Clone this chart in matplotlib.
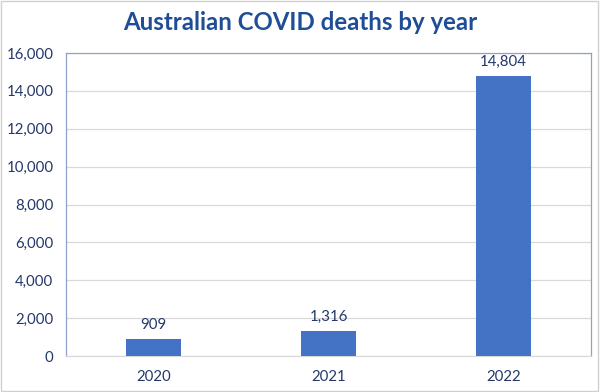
import matplotlib
matplotlib.use('Agg')
import matplotlib.pyplot as plt
from matplotlib.patches import Rectangle

plt.rcParams['font.family'] = ['Lato', 'DejaVu Sans']

years = ['2020', '2021', '2022']
deaths = [909, 1316, 14804]

dark_blue = '#1F4E96'
text_blue = '#24386A'
bar_blue = '#4472C4'
frame = '#8FA2C4'

fig = plt.figure(figsize=(6, 3.92), dpi=100)
ax = fig.add_axes([0.11, 0.0918, 0.875, 0.773])

x = range(len(years))
bars = ax.bar(x, deaths, width=0.31, color=bar_blue, zorder=3)

ax.set_xlim(-0.5, 2.5)
ax.set_ylim(0, 16000)
ax.set_yticks(range(0, 16001, 2000))
ax.set_yticklabels(['{:,}'.format(v) for v in range(0, 16001, 2000)])
ax.set_xticks(list(x))
ax.set_xticklabels(years)
ax.grid(axis='y', color='#D9D9D9', linewidth=0.9, zorder=0)
ax.tick_params(length=0, labelsize=10.8, colors=text_blue, pad=9)
ax.tick_params(axis='x', pad=10)

for s in ['left', 'right', 'top']:
    ax.spines[s].set_color(frame)
    ax.spines[s].set_linewidth(0.9)
ax.spines['bottom'].set_color('#D9D9D9')
ax.spines['bottom'].set_linewidth(0.9)

for b, v in zip(bars, deaths):
    ax.annotate('{:,}'.format(v), (b.get_x() + b.get_width() / 2, v),
                xytext=(0, 5), textcoords='offset points',
                ha='center', va='bottom', fontsize=10.8, color=text_blue)

fig.text(0.5, 0.943, 'Australian COVID deaths by year', ha='center', va='center',
         fontsize=17.3, fontweight='bold', color=dark_blue)

fig.patches.append(Rectangle((0.002, 0.003), 0.995, 0.994, transform=fig.transFigure,
                             fill=False, edgecolor='#D0D0D0', linewidth=1))

fig.savefig('out.png', dpi=100)
